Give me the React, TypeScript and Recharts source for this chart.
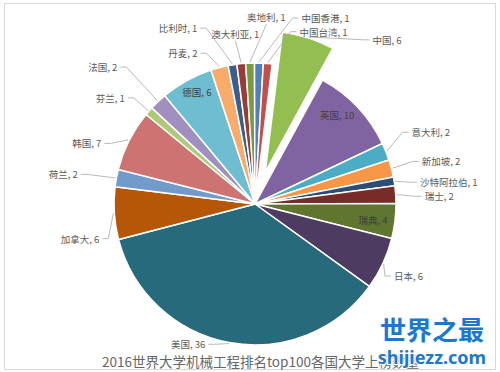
import { PieChart, Pie, Cell } from 'recharts';

const countries = ['中国', '英国', '意大利', '新加坡', '沙特阿拉伯', '瑞士', '瑞典', '日本', '美国', '加拿大', '荷兰', '韩国', '芬兰', '法国', '德国', '丹麦', '比利时', '澳大利亚', '奥地利', '中国香港', '中国台湾'];
const counts = [6, 10, 2, 2, 1, 2, 4, 6, 36, 6, 2, 7, 1, 2, 6, 2, 1, 1, 1, 1, 1];
const sliceColors = ['#92BF4F', '#8064A2', '#4BACC6', '#F79646', '#2C4D75', '#772C2A', '#5F7530', '#4D3B62', '#276A7C', '#B65708', '#729ACA', '#CD7371', '#AFC97A', '#A18FBF', '#6FBDD1', '#F9AB6B', '#3A5F8B', '#9A3B38', '#7B9A3D', '#4F81BD', '#C0504D'];
const title = '2016世界大学机械工程排名top100各国大学上榜数量';

const data = countries.map((name, i) => ({ name, value: counts[i] }));

// label placement: anchor + nudge from the radial spot (outer radius + 20, or 0.85r inside)
const labelLayout: { anchor: 'start' | 'end' | 'middle'; dx: number; dy: number; inside?: boolean }[] = [
  { anchor: 'start', dx: 58, dy: 21 },
  { anchor: 'middle', dx: -5, dy: -7, inside: true },
  { anchor: 'start', dx: 7, dy: -12 },
  { anchor: 'start', dx: 11, dy: -2 },
  { anchor: 'start', dx: 6, dy: 4 },
  { anchor: 'start', dx: 9, dy: 3 },
  { anchor: 'middle', dx: -1, dy: 1, inside: true },
  { anchor: 'start', dx: -7, dy: 4 },
  { anchor: 'end', dx: -20, dy: -18 },
  { anchor: 'end', dx: 5, dy: 24 },
  { anchor: 'end', dx: -19, dy: 0 },
  { anchor: 'end', dx: -10, dy: 12 },
  { anchor: 'end', dx: -9, dy: 0 },
  { anchor: 'end', dx: -27, dy: -20 },
  { anchor: 'middle', dx: 0, dy: -7, inside: true },
  { anchor: 'end', dx: -17, dy: 5 },
  { anchor: 'end', dx: -32, dy: -17 },
  { anchor: 'middle', dx: -4, dy: -10 },
  { anchor: 'middle', dx: 17, dy: -26 },
  { anchor: 'start', dx: 42, dy: -25 },
  { anchor: 'start', dx: 30, dy: -12 },
];

const RADIAN = Math.PI / 180;
const CX = 250;
const CY = 199;
const R = 141;
const START = 83;
const EXPLODE = 33.5;

const total = counts.reduce((a, b) => a + b, 0);
const chinaMid = START - (counts[0] / total) * 180;
const CX2 = CX + EXPLODE * Math.cos(chinaMid * RADIAN);
const CY2 = CY - EXPLODE * Math.sin(chinaMid * RADIAN);

const makeLabel = (only: (i: number) => boolean) => {
  // eslint-disable-next-line @typescript-eslint/no-explicit-any
  return (props: any) => {
    const { cx, cy, midAngle, outerRadius, index, name, value } = props;
    if (!only(index)) return null;
    const lay = labelLayout[index];
    const cos = Math.cos(-midAngle * RADIAN);
    const sin = Math.sin(-midAngle * RADIAN);
    const text = `${name}, ${value}`;
    if (lay.inside) {
      const x = cx + outerRadius * 0.85 * cos + lay.dx;
      const y = cy + outerRadius * 0.85 * sin + lay.dy;
      return (
        <text x={x} y={y} textAnchor="middle" dominantBaseline="central" fill="#404040" fontSize={9.5} fontFamily="'Noto Sans CJK SC', sans-serif">
          {text}
        </text>
      );
    }
    const x = cx + (outerRadius + 20) * cos + lay.dx;
    const y = cy + (outerRadius + 20) * sin + lay.dy;
    const ex = cx + (outerRadius + 1) * cos;
    const ey = cy + (outerRadius + 1) * sin;
    let pts: string;
    if (lay.anchor === 'start') pts = `${ex},${ey} ${x - 9},${y} ${x - 3},${y}`;
    else if (lay.anchor === 'end') pts = `${ex},${ey} ${x + 9},${y} ${x + 3},${y}`;
    else pts = `${ex},${ey} ${x},${y + 7}`;
    return (
      <g>
        <polyline points={pts} fill="none" stroke="#A6A6A6" strokeWidth={0.8} />
        <text x={x} y={y} textAnchor={lay.anchor} dominantBaseline="central" fill="#595959" fontSize={9.5} fontFamily="'Noto Sans CJK SC', sans-serif">
          {text}
        </text>
      </g>
    );
  };
};

export default function App() {
  return (
    <div style={{ position: 'fixed', left: 0, top: 0, width: 500, height: 372, background: '#fff' }}>
      <div style={{ position: 'absolute', left: 4, top: 3, width: 490, height: 365, border: '1px solid #D9D9D9' }} />
      <PieChart width={500} height={372} style={{ position: 'absolute', left: 0, top: 0 }}>
        <Pie
          data={data}
          dataKey="value"
          nameKey="name"
          cx={CX}
          cy={CY}
          outerRadius={R}
          startAngle={START}
          endAngle={START - 360}
          stroke="#fff"
          strokeWidth={1.5}
          labelLine={false}
          label={makeLabel((i) => i !== 0)}
          isAnimationActive={false}
        >
          {data.map((d, i) => (
            <Cell key={d.name} fill={i === 0 ? 'none' : sliceColors[i]} stroke={i === 0 ? 'none' : '#fff'} />
          ))}
        </Pie>
        <Pie
          data={data}
          dataKey="value"
          nameKey="name"
          cx={CX2}
          cy={CY2}
          outerRadius={R}
          startAngle={START}
          endAngle={START - 360}
          stroke="none"
          labelLine={false}
          label={makeLabel((i) => i === 0)}
          isAnimationActive={false}
        >
          {data.map((d, i) => (
            <Cell key={d.name} fill={i === 0 ? sliceColors[0] : 'none'} stroke={i === 0 ? '#fff' : 'none'} strokeWidth={1.5} />
          ))}
        </Pie>
        <text x={102} y={361} dominantBaseline="central" fill="#666666" fontSize={13.5} fontFamily="'Noto Sans CJK SC', sans-serif">
          {title}
        </text>
        <text x={432} y={328} textAnchor="middle" dominantBaseline="central" fill="#1C78CF" fontSize={26} fontWeight="bold" fontFamily="'Noto Sans CJK SC', sans-serif" stroke="#fff" strokeWidth={2} paintOrder="stroke">
          世界之最
        </text>
        <text x={432} y={357} textAnchor="middle" dominantBaseline="central" fill="#1C78CF" fontSize={18} fontWeight="bold" fontFamily="'Noto Sans', sans-serif" stroke="#fff" strokeWidth={2} paintOrder="stroke">
          shijiezz.com
        </text>
      </PieChart>
    </div>
  );
}
